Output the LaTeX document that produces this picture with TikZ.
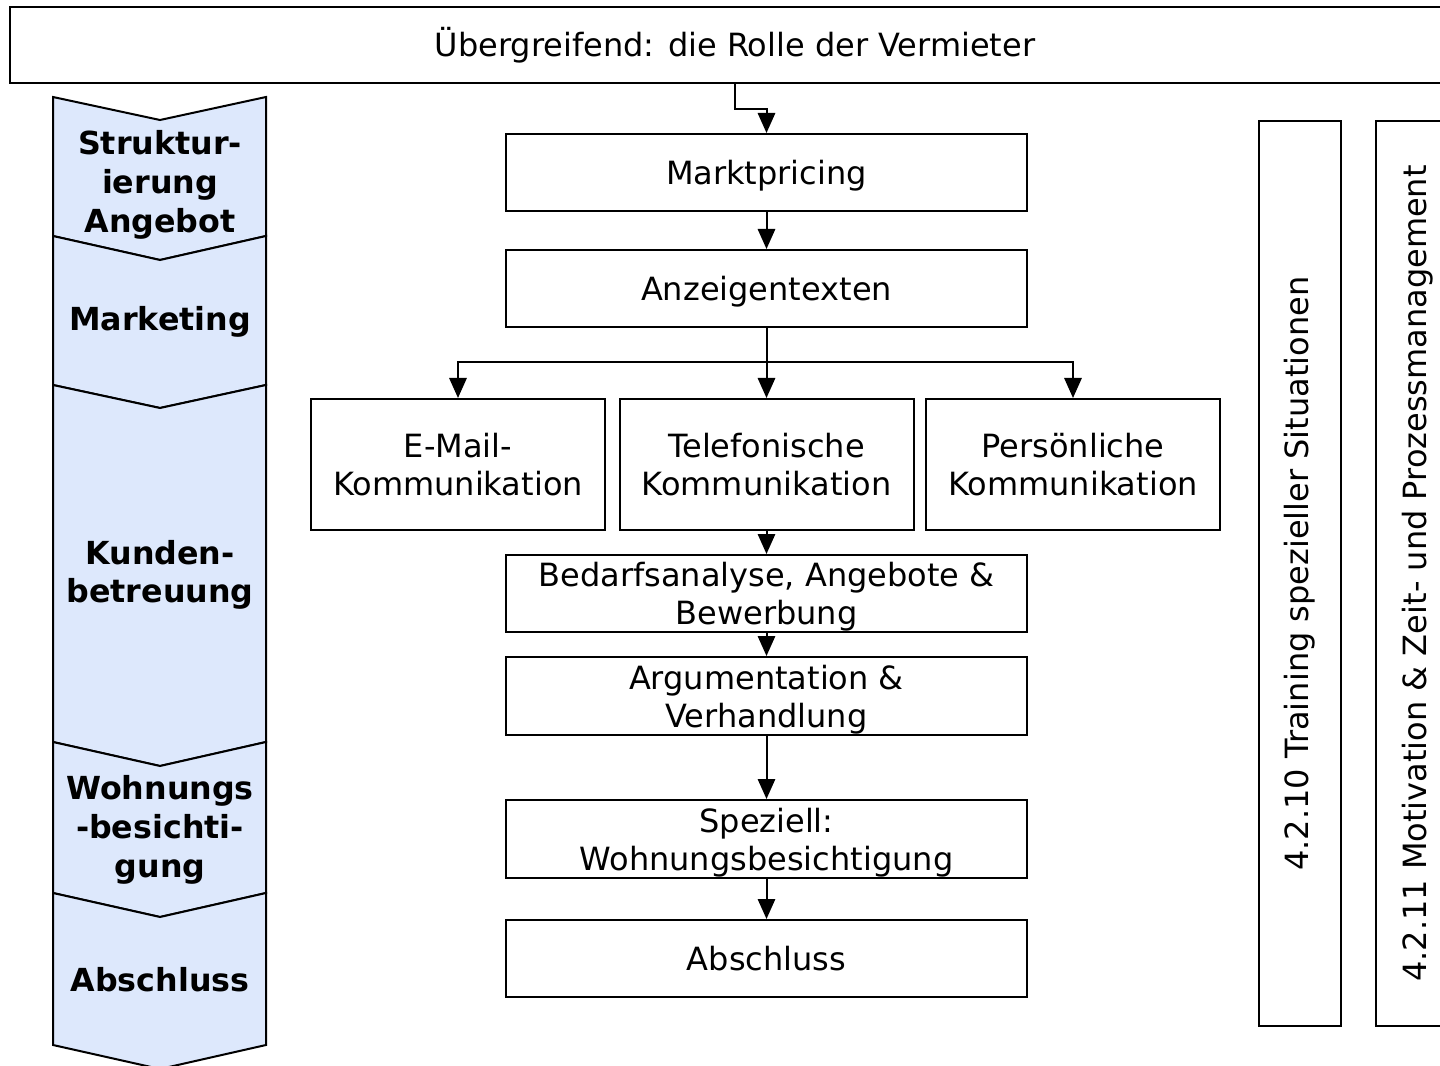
\documentclass[tikz,border=0pt]{standalone}
\usepackage{fontspec}
\setmainfont{DejaVu Sans}
\usetikzlibrary{arrows.meta}
\definecolor{chevfill}{RGB}{221,232,252}
\tikzset{
  stroke/.style={line width=1.5pt, draw=black},
  frame/.style={stroke, rectangle, inner sep=0pt, align=center,
    font=\fontsize{24}{28.5}\selectfont},
  box/.style={frame, text depth=0pt},
  arr/.style={line width=1.5pt, -{Triangle[length=15pt,width=13pt]}},
  chev/.style={stroke, fill=chevfill, line join=miter},
  chevtext/.style={inner sep=0pt, align=center,
    font=\fontsize{23.8}{29}\selectfont\bfseries},
  sidebox/.style={stroke, rectangle, inner sep=0pt, rotate=90,
    minimum width=678.75pt, font=\fontsize{24}{28}\selectfont}
}
\begin{document}
\begin{tikzpicture}[x=0.75pt,y=-0.75pt]
\clip (0,0) rectangle (1440,1066);
\fill[white] (0,0) rectangle (1440,1066);

% overall frame at the top
\node[frame, minimum width=1087.5pt, minimum height=57pt] (top) at (735,45)
  {Übergreifend: die Rolle der Vermieter};

% phase chevrons on the left
\draw[chev] (53,97) -- (160,120) -- (266,97) -- (266,236) -- (160,260) -- (53,236) -- cycle;
\draw[chev] (53,236) -- (160,260) -- (266,236) -- (266,385) -- (160,408) -- (53,385) -- cycle;
\draw[chev] (53,385) -- (160,408) -- (266,385) -- (266,742) -- (160,766) -- (53,742) -- cycle;
\draw[chev] (53,742) -- (160,766) -- (266,742) -- (266,893) -- (160,917) -- (53,893) -- cycle;
\draw[chev] (53,893) -- (160,917) -- (266,893) -- (266,1045) -- (160,1069) -- (53,1045) -- cycle;
\node[chevtext] (c1) at (160,185) {Struktur-\\ierung\\Angebot};
\node[chevtext] (c2) at (160,322) {Marketing};
\node[chevtext] (c3) at (160,575) {Kunden-\\betreuung};
\node[chevtext] (c4) at (160,830) {Wohnungs\\-besichti-\\gung};
\node[chevtext] (c5) at (160,980) {Abschluss};

% main process
\node[box, minimum width=390.75pt, minimum height=57.75pt] (mp) at (766.5,172.5) {Marktpricing};
\node[box, minimum width=390.75pt, minimum height=57.75pt] (az) at (766.5,288.5) {Anzeigentexten};
\node[box, minimum width=220.5pt, minimum height=98.25pt] (em) at (458,464.5) {E-Mail-\\Kommunikation};
\node[box, minimum width=220.5pt, minimum height=98.25pt] (tel) at (766.5,464.5) {Telefonische\\Kommunikation};
\node[box, minimum width=220.5pt, minimum height=98.25pt] (pe) at (1073,464.5) {Persönliche\\Kommunikation};
\node[box, minimum width=390.75pt, minimum height=57.75pt] (bed) at (766.5,593.5) {Bedarfsanalyse, Angebote \&\\Bewerbung};
\node[box, minimum width=390.75pt, minimum height=58.5pt] (arg) at (766.5,696) {Argumentation \&\\Verhandlung};
\node[box, minimum width=390.75pt, minimum height=58.5pt] (spz) at (766.5,839) {Speziell:\\Wohnungsbesichtigung};
\node[box, minimum width=390.75pt, minimum height=57.75pt] (abs) at (766.5,958.5) {Abschluss};

% connectors
\draw[arr] (top.south) -- ++(0,25) -| (mp.north);
\draw[arr] (mp.south) -- (az.north);
\coordinate (split) at (766.5,362);
\draw[arr] (az.south) -- (tel.north);
\draw[arr] (split) -| (em.north);
\draw[arr] (split) -| (pe.north);
\draw[arr] (tel.south) -- (bed.north);
\draw[arr] (bed.south) -- (arg.north);
\draw[arr] (arg.south) -- (spz.north);
\draw[arr] (spz.south) -- (abs.north);

% cross-cutting topics on the right
\node[sidebox, minimum height=61.5pt] (s1) at (1300,573.5) {4.2.10 Training spezieller Situationen};
\node[sidebox, minimum height=63pt] (s2) at (1418,573.5) {4.2.11 Motivation \& Zeit- und Prozessmanagement};
\end{tikzpicture}
\end{document}
